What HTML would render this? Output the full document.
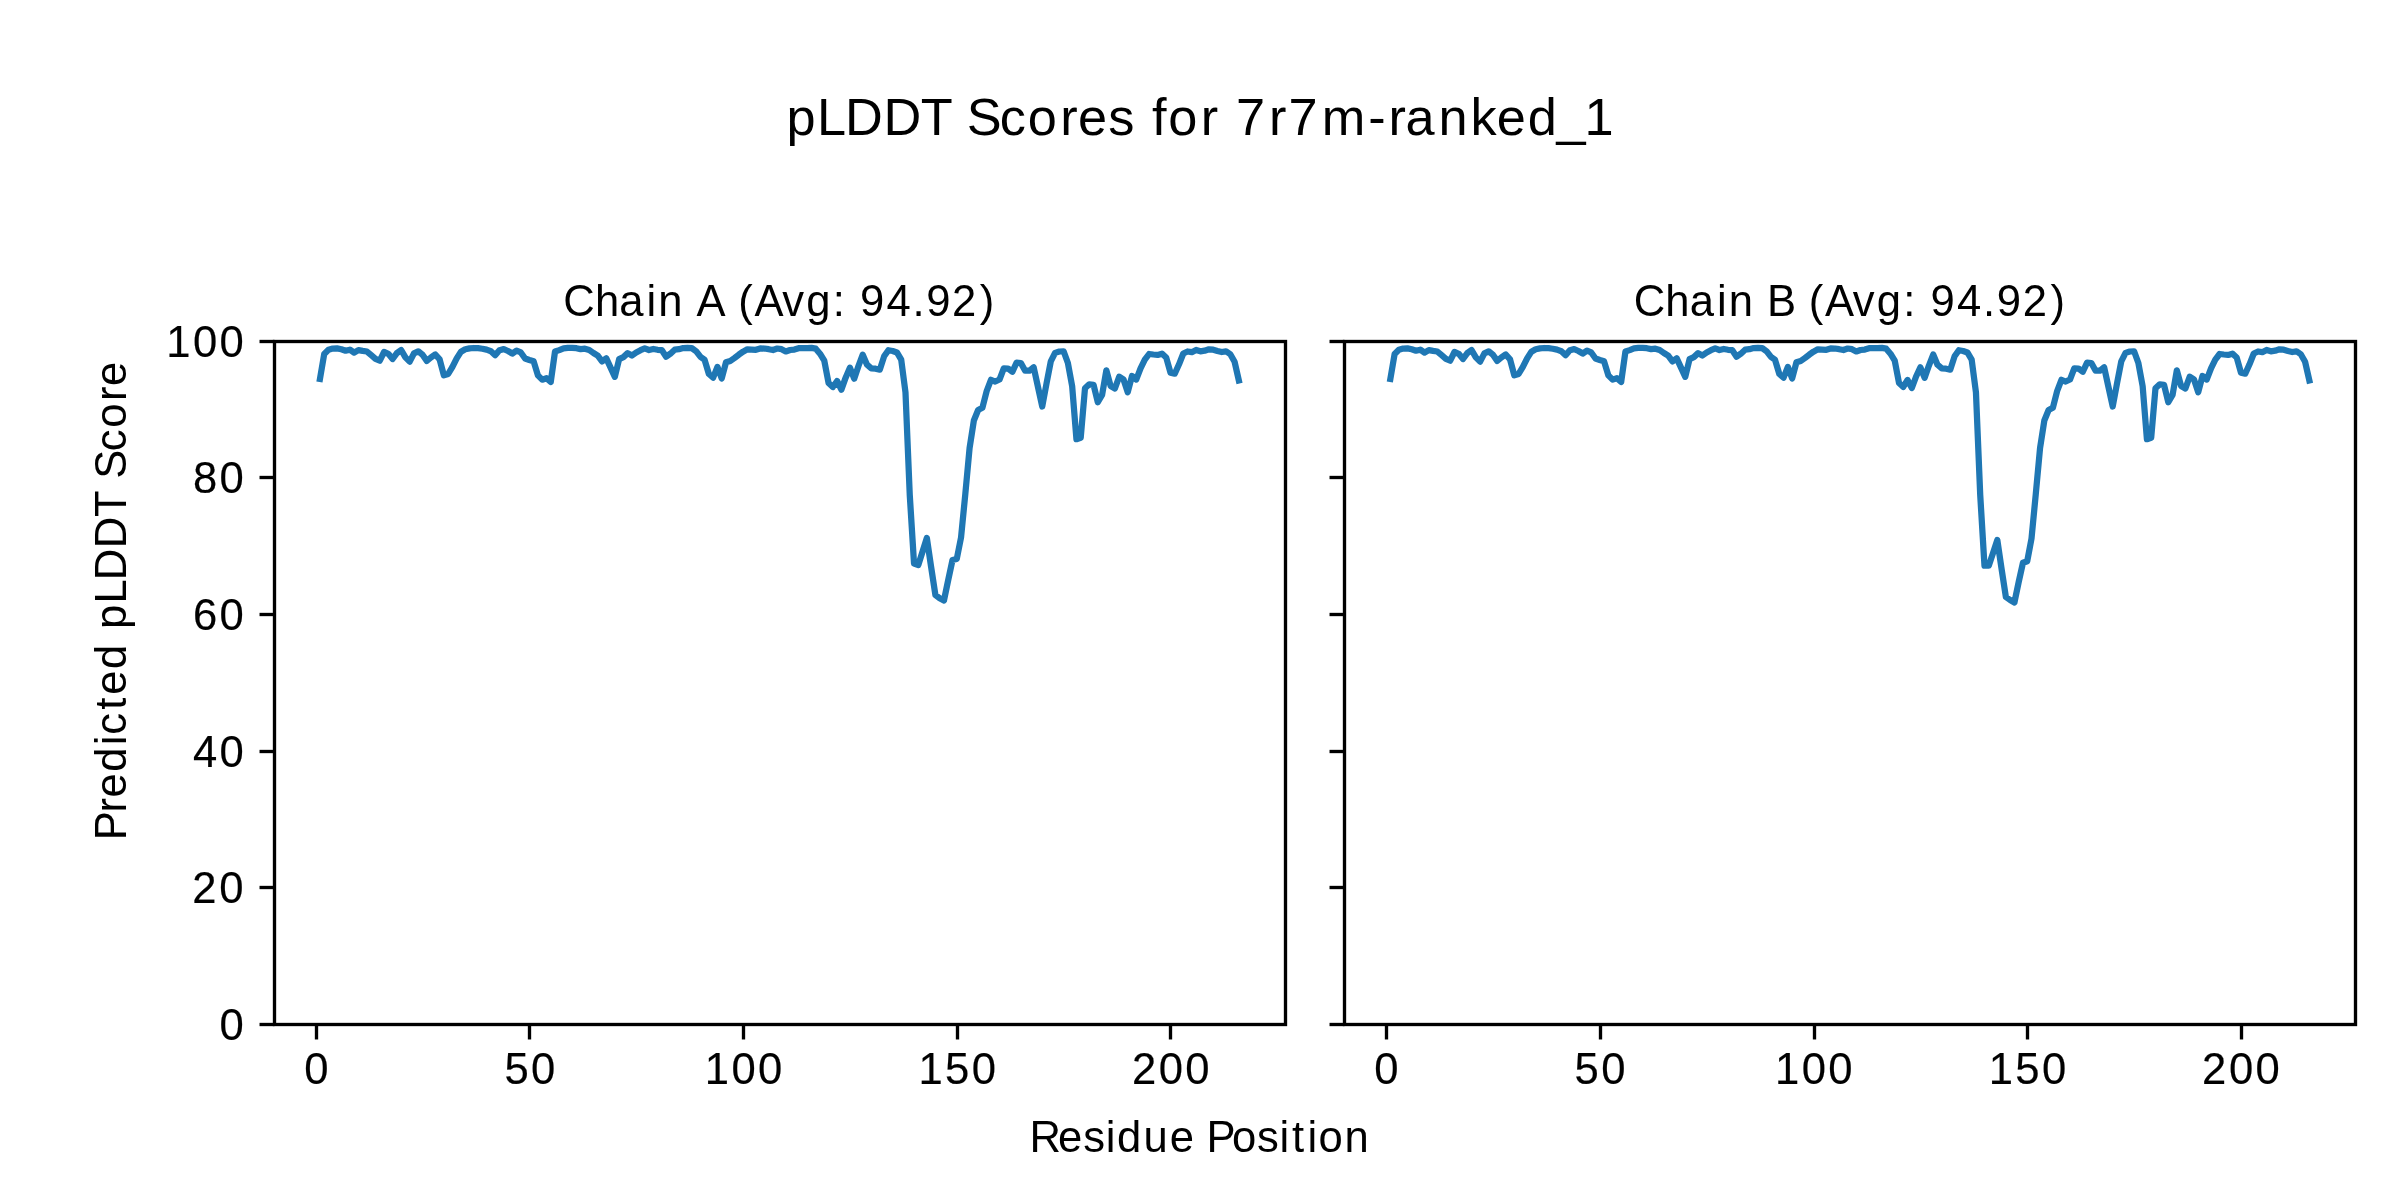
<!DOCTYPE html>
<html lang="en"><head><meta charset="utf-8"><title>pLDDT Scores for 7r7m-ranked_1</title>
<style>html,body{margin:0;padding:0;background:#fff;}body{width:2400px;height:1200px;}svg{display:block;will-change:transform;}text{font-family:"Liberation Sans",sans-serif;fill:#000;filter:grayscale(1);}.tl{stroke:#000;stroke-width:0.18px;}.sp{fill:none;stroke:#000;stroke-width:3.33;stroke-linejoin:miter;}.tk{stroke:#000;stroke-width:3.33;stroke-linecap:butt;}.ln{fill:none;stroke:#1f77b4;stroke-width:6.25;stroke-linejoin:round;stroke-linecap:square;}</style></head><body>
<svg width="2400" height="1200" viewBox="0 0 2400 1200">
<rect x="0" y="0" width="2400" height="1200" fill="#ffffff"/>
<text x="786.45 816.99 844.89 883.39 920.75 952.06 966.63 999.64 1027.83 1060.23 1078.12 1108.24 1134.06 1152.11 1168.33 1200.73 1218.81 1235.94 1269.1 1288.44 1321.77 1368.13 1388.48 1405.46 1438.6 1470.61 1496.87 1527.71 1556.5 1584.52" y="134.5" font-size="52.3">pLDDT Scores for 7r7m-ranked_1</text>
<g id="axesA">
<polyline class="ln" points="319.95,379 324.22,353.93 328.49,349.73 332.77,348.53 337.04,348.33 341.32,349.27 345.59,350.73 349.86,349.67 354.14,352.67 358.41,350.07 362.69,350.87 366.96,351.53 371.23,355.13 375.51,358.87 379.78,360.67 384.06,352 388.33,353.8 392.6,359 396.88,353.13 401.15,350 405.43,357.33 409.7,361.67 413.97,353.33 418.25,351.33 422.52,354.67 426.8,360.87 431.07,357.33 435.34,354.47 439.62,359.33 443.89,375.33 448.17,374 452.44,366.87 456.71,358.33 460.99,351.67 465.26,349.2 469.54,348.33 473.81,348 478.08,348.2 482.36,348.73 486.63,349.67 490.91,351.2 495.18,355.13 499.45,350.2 503.73,349.13 508,351 512.28,353.53 516.55,350.67 520.82,352.47 525.1,358.47 529.37,360 533.65,361.33 537.92,375.33 542.19,379.67 546.47,378.2 550.74,382 555.02,351.53 559.29,350.13 563.56,348.33 567.84,347.87 572.11,347.87 576.39,348.2 580.66,349.13 584.93,348.67 589.21,350 593.48,353 597.76,355.67 602.03,361.4 606.3,358.4 610.58,367.67 614.85,376.87 619.13,359.13 623.4,357.13 627.67,353.13 631.95,355.53 636.22,352.47 640.5,350.2 644.77,348.33 649.04,350 653.32,349 657.59,349.8 661.87,350.2 666.14,356.67 670.41,353.67 674.69,349.67 678.96,349.2 683.24,348.07 687.51,347.8 691.78,348.13 696.06,351.2 700.33,356.67 704.61,359.8 708.88,374 713.15,377.67 717.43,366.87 721.7,378.47 725.98,362.33 730.25,361 734.52,358 738.8,354.67 743.07,351.67 747.35,349.33 751.62,349.6 755.89,349.8 760.17,348.47 764.44,348.53 768.72,349.2 772.99,350 777.26,348.53 781.54,349.2 785.81,351.47 790.08,350 794.36,349.53 798.63,348.2 802.91,348 807.18,348.07 811.45,347.87 815.73,348.67 820,353.67 824.28,360.67 828.55,383 832.82,387 837.1,381 841.37,389.67 845.65,377.67 849.92,367.67 854.19,378.67 858.47,366 862.74,354.67 867.02,364.67 871.29,368.33 875.56,368.67 879.84,369.67 884.11,356.33 888.39,350.2 892.66,351 896.93,352.47 901.21,359.6 905.48,392.33 909.76,495 914.03,563.5 918.3,565 922.58,551.5 926.85,538 931.13,567 935.4,595 939.67,598.2 943.95,600.5 948.22,580 952.5,560 956.77,559 961.04,537.5 965.32,494 969.59,448 973.87,420.5 978.14,410 982.41,407.8 986.69,391 990.96,379.8 995.24,381.53 999.51,379.53 1003.78,368.33 1008.06,368.53 1012.33,371.8 1016.61,362.67 1020.88,363 1025.15,370.67 1029.43,370.67 1033.7,367.33 1037.98,387 1042.25,406.5 1046.52,383.5 1050.8,361.3 1055.07,352.9 1059.35,351.5 1063.62,351.3 1067.89,363 1072.17,386.3 1076.44,439.2 1080.72,437.8 1084.99,388.3 1089.26,384.3 1093.54,384.8 1097.81,402.2 1102.09,395 1106.36,370.3 1110.63,386 1114.91,388.5 1119.18,376.7 1123.46,379.3 1127.73,392.2 1132,376 1136.28,379.5 1140.55,368.3 1144.83,359.7 1149.1,354 1153.37,354.5 1157.65,354.9 1161.92,353.7 1166.2,357.5 1170.47,372.7 1174.74,373.7 1179.02,364.3 1183.29,353.5 1187.57,351.5 1191.84,352.2 1196.11,350 1200.39,351.3 1204.66,350.7 1208.94,349.3 1213.21,349.7 1217.48,351 1221.76,352 1226.03,351.3 1230.31,354.3 1234.58,361.7 1238.85,380.5"/>
<line class="tk" x1="316.5" y1="1024.5" x2="316.5" y2="1039.48"/>
<line class="tk" x1="529.5" y1="1024.5" x2="529.5" y2="1039.48"/>
<line class="tk" x1="743.5" y1="1024.5" x2="743.5" y2="1039.48"/>
<line class="tk" x1="957.5" y1="1024.5" x2="957.5" y2="1039.48"/>
<line class="tk" x1="1170.5" y1="1024.5" x2="1170.5" y2="1039.48"/>
<line class="tk" x1="274.5" y1="1024.5" x2="259.52" y2="1024.5"/>
<line class="tk" x1="274.5" y1="887.5" x2="259.52" y2="887.5"/>
<line class="tk" x1="274.5" y1="751.5" x2="259.52" y2="751.5"/>
<line class="tk" x1="274.5" y1="614.5" x2="259.52" y2="614.5"/>
<line class="tk" x1="274.5" y1="477.5" x2="259.52" y2="477.5"/>
<line class="tk" x1="274.5" y1="341.5" x2="259.52" y2="341.5"/>
<rect class="sp" x="274.5" y="341.5" width="1011" height="683"/>
<text x="563.22 594.88 619.23 646.62 658.32 683.52 696.48 725.27 738.29 754.48 782.2 806.25 832.75 845.77 860.01 886.52 912.45 926.14 952.1 979.87" y="316" font-size="43.6">Chain A (Avg: 94.92)</text>
<text x="304.14" y="1083.6" font-size="43.6" class="tl">0</text>
<text x="504.42 531.08" y="1083.6" font-size="43.6" class="tl">50</text>
<text x="704.81 731.53 758.03" y="1083.6" font-size="43.6" class="tl">100</text>
<text x="918.51 945.07 971.73" y="1083.6" font-size="43.6" class="tl">150</text>
<text x="1131.88 1158.8 1185.3" y="1083.6" font-size="43.6" class="tl">200</text>
<text x="219.41" y="1039.7" font-size="43.6" class="tl">0</text>
<text x="192.35 219.28" y="902.7" font-size="43.6" class="tl">20</text>
<text x="192.9 219.4" y="766.7" font-size="43.6" class="tl">40</text>
<text x="192.9 219.4" y="629.7" font-size="43.6" class="tl">60</text>
<text x="192.9 219.53" y="492.7" font-size="43.6" class="tl">80</text>
<text x="166.17 192.89 219.39" y="356.7" font-size="43.6" class="tl">100</text>
</g>
<g id="axesB">
<polyline class="ln" points="1390.35,379 1394.62,353.93 1398.9,349.73 1403.17,348.53 1407.45,348.33 1411.72,349.27 1416,350.73 1420.27,349.67 1424.55,352.67 1428.82,350.07 1433.09,350.87 1437.37,351.53 1441.64,355.13 1445.92,358.87 1450.19,360.67 1454.47,352 1458.74,353.8 1463.02,359 1467.29,353.13 1471.56,350 1475.84,357.33 1480.11,361.67 1484.39,353.33 1488.66,351.33 1492.94,354.67 1497.21,360.87 1501.48,357.33 1505.76,354.47 1510.03,359.33 1514.31,375.33 1518.58,374 1522.86,366.87 1527.13,358.33 1531.41,351.67 1535.68,349.2 1539.95,348.33 1544.23,348 1548.5,348.2 1552.78,348.73 1557.05,349.67 1561.33,351.2 1565.6,355.13 1569.88,350.2 1574.15,349.13 1578.42,351 1582.7,353.53 1586.97,350.67 1591.25,352.47 1595.52,358.47 1599.8,360 1604.07,361.33 1608.35,375.33 1612.62,379.67 1616.89,378.2 1621.17,382 1625.44,351.53 1629.72,350.13 1633.99,348.33 1638.27,347.87 1642.54,347.87 1646.82,348.2 1651.09,349.13 1655.36,348.67 1659.64,350 1663.91,353 1668.19,355.67 1672.46,361.4 1676.74,358.4 1681.01,367.67 1685.28,376.87 1689.56,359.13 1693.83,357.13 1698.11,353.13 1702.38,355.53 1706.66,352.47 1710.93,350.2 1715.21,348.33 1719.48,350 1723.75,349 1728.03,349.8 1732.3,350.2 1736.58,356.67 1740.85,353.67 1745.13,349.67 1749.4,349.2 1753.68,348.07 1757.95,347.8 1762.22,348.13 1766.5,351.2 1770.77,356.67 1775.05,359.8 1779.32,374 1783.6,377.67 1787.87,366.87 1792.15,378.47 1796.42,362.33 1800.69,361 1804.97,358 1809.24,354.67 1813.52,351.67 1817.79,349.33 1822.07,349.6 1826.34,349.8 1830.62,348.47 1834.89,348.53 1839.16,349.2 1843.44,350 1847.71,348.53 1851.99,349.2 1856.26,351.47 1860.54,350 1864.81,349.53 1869.08,348.2 1873.36,348 1877.63,348.07 1881.91,347.87 1886.18,348.67 1890.46,353.67 1894.73,360.67 1899.01,383 1903.28,386.87 1907.55,380 1911.83,388 1916.1,376.47 1920.38,367.33 1924.65,377.8 1928.93,365.53 1933.2,354.53 1937.48,364.67 1941.75,368.33 1946.02,368.67 1950.3,369.67 1954.57,356.33 1958.85,350.2 1963.12,351 1967.4,352.47 1971.67,359.6 1975.95,392.33 1980.22,495 1984.49,565.7 1988.77,565.7 1993.04,553 1997.32,540 2001.59,569 2005.87,597 2010.14,600 2014.42,602.5 2018.69,582 2022.96,562.8 2027.24,561.2 2031.51,538.5 2035.79,494 2040.06,448 2044.34,420.5 2048.61,410 2052.88,407.8 2057.16,391 2061.43,379.8 2065.71,381.53 2069.98,379.53 2074.26,368.33 2078.53,368.53 2082.81,371.8 2087.08,362.67 2091.35,363 2095.63,370.67 2099.9,370.67 2104.18,367.33 2108.45,387 2112.73,406.5 2117,383.5 2121.28,361.3 2125.55,352.9 2129.82,351.5 2134.1,351.3 2138.37,363 2142.65,386.3 2146.92,439.2 2151.2,437.8 2155.47,388.3 2159.75,384.3 2164.02,384.8 2168.29,402.2 2172.57,395 2176.84,370.3 2181.12,386 2185.39,388.5 2189.67,376.7 2193.94,379.3 2198.22,392.2 2202.49,376 2206.76,379.5 2211.04,368.3 2215.31,359.7 2219.59,354 2223.86,354.5 2228.14,354.9 2232.41,353.7 2236.68,357.5 2240.96,372.7 2245.23,373.7 2249.51,364.3 2253.78,353.5 2258.06,351.5 2262.33,352.2 2266.61,350 2270.88,351.3 2275.15,350.7 2279.43,349.3 2283.7,349.7 2287.98,351 2292.25,352 2296.53,351.3 2300.8,354.3 2305.08,361.7 2309.35,380.5"/>
<line class="tk" x1="1386.5" y1="1024.5" x2="1386.5" y2="1039.48"/>
<line class="tk" x1="1600.5" y1="1024.5" x2="1600.5" y2="1039.48"/>
<line class="tk" x1="1814.5" y1="1024.5" x2="1814.5" y2="1039.48"/>
<line class="tk" x1="2027.5" y1="1024.5" x2="2027.5" y2="1039.48"/>
<line class="tk" x1="2241.5" y1="1024.5" x2="2241.5" y2="1039.48"/>
<line class="tk" x1="1344.5" y1="1024.5" x2="1329.52" y2="1024.5"/>
<line class="tk" x1="1344.5" y1="887.5" x2="1329.52" y2="887.5"/>
<line class="tk" x1="1344.5" y1="751.5" x2="1329.52" y2="751.5"/>
<line class="tk" x1="1344.5" y1="614.5" x2="1329.52" y2="614.5"/>
<line class="tk" x1="1344.5" y1="477.5" x2="1329.52" y2="477.5"/>
<line class="tk" x1="1344.5" y1="341.5" x2="1329.52" y2="341.5"/>
<rect class="sp" x="1344.5" y="341.5" width="1011" height="683"/>
<text x="1633.67 1665.33 1689.68 1717.07 1728.77 1753.97 1766.91 1795.85 1808.87 1825.05 1852.78 1876.82 1903.32 1916.35 1930.59 1957.09 1983.02 1996.71 2022.67 2050.45" y="316" font-size="43.6">Chain B (Avg: 94.92)</text>
<text x="1374.24" y="1083.6" font-size="43.6" class="tl">0</text>
<text x="1574.55 1601.21" y="1083.6" font-size="43.6" class="tl">50</text>
<text x="1774.95 1801.67 1828.17" y="1083.6" font-size="43.6" class="tl">100</text>
<text x="1988.67 2015.23 2041.89" y="1083.6" font-size="43.6" class="tl">150</text>
<text x="2202.07 2228.99 2255.49" y="1083.6" font-size="43.6" class="tl">200</text>
</g>
<text x="1029.59 1058.09 1083.18 1105.65 1117.03 1143.55 1169.71 1194.56 1206.53 1232.07 1257.06 1279.53 1292.07 1307.4 1318.57 1344.48" y="1152.2" font-size="43.6">Residue Position</text>
<text x="-240.16 -212.39 -197.47 -171.78 -145.28 -134.69 -109.87 -94.72 -69.03 -43.5 -28.89 -3.52 19.74 51.87 83.05 109 121.16 148.81 172.26 199.11 214.03" y="0" font-size="43.6" transform="translate(126,600) rotate(-90)">Predicted pLDDT Score</text>
</svg></body></html>
